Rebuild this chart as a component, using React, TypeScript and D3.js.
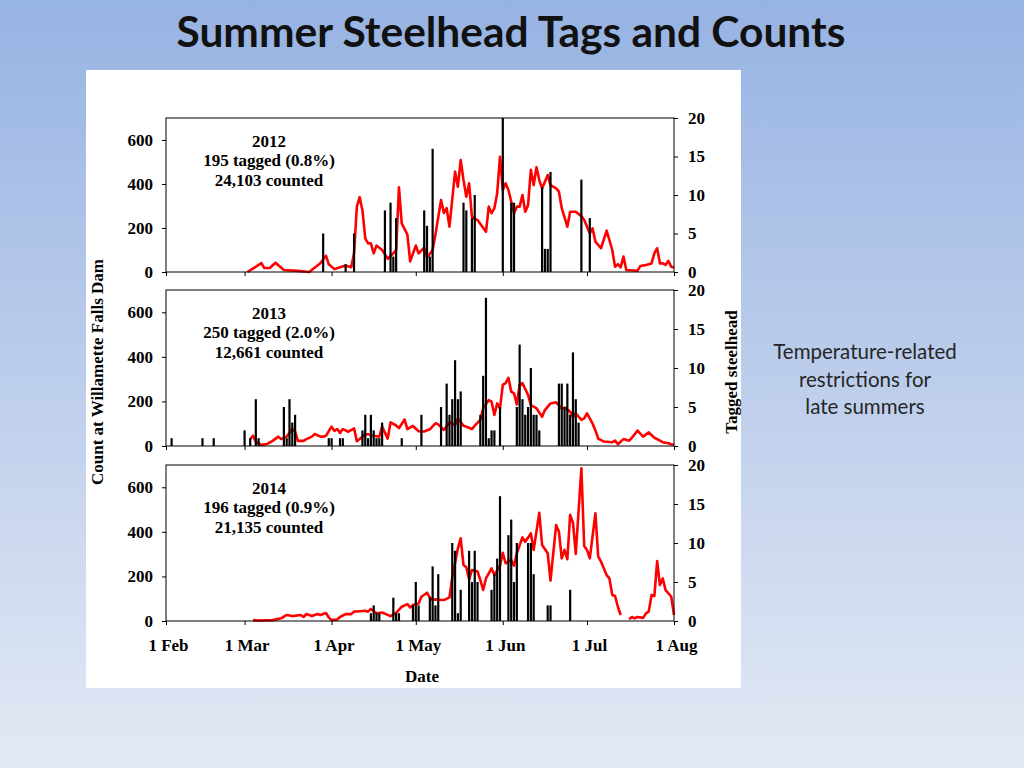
import { useEffect, useRef } from 'react';
import * as d3 from 'd3';

type Pt = [number, number | null];

// days counted from 1 Feb
const monthDays = [0, 28, 59, 89, 120, 150, 181];
const monthLabels = ['1 Feb', '1 Mar', '1 Apr', '1 May', '1 Jun', '1 Jul', '1 Aug'];
const countTicks = [0, 200, 400, 600];
const tagTicks = [0, 5, 10, 15, 20];

const years = ['2012', '2013', '2014'];
const taggedNotes = ['195 tagged (0.8%)', '250 tagged (2.0%)', '196 tagged (0.9%)'];
const countedNotes = ['24,103 counted', '12,661 counted', '21,135 counted'];

// daily dam counts (left axis)
const counts2012: Pt[] = [
  [29, 0], [34, 40], [35, 18], [37, 18], [39, 42], [42, 9], [47, 5], [51, 0], [55, 40], [57, 74],
  [58, 35], [60, 13], [62, 22], [64, 30], [66, 22], [67, 85], [68, 297], [69, 340], [70, 280], [71, 153],
  [72, 130], [73, 130], [74, 85], [75, 120], [77, 100], [79, 60], [81, 85], [82, 100], [83, 385], [84, 221],
  [86, 170], [87, 48], [89, 120], [90, 85], [92, 110], [93, 65], [95, 100], [96, 170], [98, 327], [99, 268],
  [100, 290], [101, 206], [103, 456], [104, 388], [105, 509], [106, 418], [107, 342], [108, 403], [109, 251], [111, 236],
  [114, 183], [115, 297], [116, 267], [117, 290], [118, 358], [119, 524], [120, 373], [121, 403], [122, 373], [124, 267],
  [125, 297], [126, 297], [127, 350], [128, 274], [129, 304], [130, 464], [131, 395], [132, 476], [133, 418], [134, 380],
  [136, 441], [137, 395], [139, 380], [140, 365], [141, 290], [143, 206], [144, 274], [146, 274], [148, 254], [149, 236],
  [151, 176], [152, 198], [153, 138], [155, 108], [157, 188], [159, 100], [160, 24], [161, 36], [162, 21], [163, 70],
  [164, 9], [168, 6], [169, 27], [171, 32], [173, 39], [174, 85], [175, 108], [176, 39], [177, 39], [178, 32],
  [179, 51], [180, 24], [181, 20],
];
const counts2013: Pt[] = [
  [30, 31], [31, 46], [32, 19], [34, 5], [36, 9], [38, 23], [40, 42], [41, 31], [43, 42], [45, 76],
  [46, 64], [47, 23], [49, 23], [50, 31], [52, 42], [53, 54], [55, 42], [56, 42], [57, 46], [59, 87],
  [60, 68], [61, 76], [62, 59], [63, 76], [65, 64], [67, 79], [68, 21], [69, 31], [71, 53], [72, 53],
  [74, 46], [76, 42], [77, 87], [79, 33], [80, 106], [82, 92], [83, 80], [85, 119], [86, 76], [88, 90],
  [90, 66], [92, 65], [94, 75], [96, 102], [97, 97], [99, 72], [101, 106], [103, 94], [104, 124], [106, 91],
  [108, 82], [109, 76], [110, 91], [112, 117], [113, 169], [115, 206], [116, 199], [117, 139], [118, 191], [119, 169],
  [120, 274], [121, 282], [122, 306], [123, 244], [124, 236], [125, 187], [126, 274], [127, 282], [129, 229], [130, 184],
  [132, 169], [134, 131], [135, 161], [137, 191], [139, 196], [141, 169], [142, 172], [144, 154], [145, 131], [146, 146],
  [148, 117], [149, 124], [150, 146], [152, 100], [153, 70], [154, 33], [156, 20], [159, 17], [160, 24], [161, 8],
  [163, 31], [165, 24], [166, 37], [168, 69], [170, 42], [172, 61], [174, 37], [175, 31], [177, 17], [179, 12],
  [180, 8], [181, 6],
];
const counts2014: Pt[] = [
  [31, 4], [33, 2], [38, 4], [41, 12], [43, 27], [45, 22], [48, 27], [49, 18], [50, 31], [52, 22],
  [54, 31], [55, 27], [57, 36], [58, 16], [59, 4], [61, 7], [62, 18], [64, 31], [66, 31], [67, 42],
  [69, 44], [71, 46], [72, 42], [73, 54], [75, 35], [77, 38], [80, 22], [82, 36], [84, 64], [86, 76],
  [87, 61], [88, 72], [90, 79], [91, 109], [93, 127], [94, 105], [95, 94], [96, 97], [98, 94], [99, 94],
  [101, 106], [102, 196], [104, 326], [105, 371], [106, 251], [107, 241], [108, 187], [109, 229], [111, 222], [112, 184],
  [113, 139], [114, 191], [116, 236], [117, 206], [119, 248], [120, 306], [121, 259], [123, 274], [124, 248], [125, 304],
  [127, 375], [128, 356], [130, 393], [131, 319], [133, 486], [134, 341], [136, 304], [137, 181], [139, 431], [140, 401],
  [141, 281], [142, 319], [143, 277], [144, 476], [145, 441], [146, 301], [148, 685], [149, 337], [150, 319], [151, 281],
  [153, 483], [154, 289], [155, 266], [157, 206], [158, 191], [159, 117], [160, 112], [161, 64], [162, 27], [163, null],
  [165, 8], [166, 18], [167, 12], [168, 18], [170, 14], [171, 34], [172, 42], [173, 117], [174, 112], [175, 269],
  [176, 161], [177, 191], [178, 139], [180, 110], [181, 27],
];

// daily tagged fish (right axis)
const tagged2012: [number, number][] = [
  [56, 5], [64, 1], [67, 5], [78, 8], [80, 9], [81, 2], [82, 7], [92, 8], [93, 6], [94, 2],
  [95, 16], [106, 9], [107, 8], [109, 7], [110, 10], [120, 20], [123, 9], [124, 9], [134, 11], [135, 3],
  [136, 3], [137, 13], [148, 12], [151, 7],
];
const tagged2013: [number, number][] = [
  [2, 1], [13, 1], [17, 1], [28, 2], [30, 1], [32, 6], [33, 1], [42, 5], [43, 1], [44, 6],
  [45, 3], [46, 4], [58, 1], [59, 1], [62, 1], [63, 1], [70, 2], [71, 4], [72, 1], [73, 4],
  [74, 2], [75, 1], [76, 1], [77, 3], [84, 1], [91, 4], [98, 5], [100, 8], [101, 4], [102, 6],
  [103, 11], [104, 6], [105, 7], [112, 4], [113, 9], [114, 19], [115, 1], [116, 2], [117, 2], [119, 5],
  [125, 5], [126, 13], [127, 6], [128, 4], [129, 5], [130, 10], [131, 4], [132, 4], [133, 2], [140, 8],
  [141, 8], [142, 5], [143, 8], [144, 4], [145, 12], [146, 6], [147, 3],
];
const tagged2014: [number, number][] = [
  [73, 1], [74, 2], [75, 1], [76, 1], [81, 3], [82, 1], [83, 1], [88, 2], [89, 5], [90, 2],
  [94, 3], [95, 7], [96, 2], [97, 6], [102, 10], [103, 9], [104, 1], [105, 4], [108, 9], [109, 5],
  [110, 9], [111, 5], [116, 4], [117, 6], [118, 8], [119, 16], [122, 11], [123, 13], [124, 5], [125, 10],
  [129, 10], [130, 10], [131, 6], [136, 2], [137, 2], [144, 4],
];

const countSeries = [counts2012, counts2013, counts2014];
const taggedSeries = [tagged2012, tagged2013, tagged2014];

const SERIF = '"Liberation Serif", "Times New Roman", serif';

export default function App() {
  const svgRef = useRef<SVGSVGElement>(null);

  useEffect(() => {
    const svg = d3.select(svgRef.current);
    svg.selectAll('*').remove();

    // slide background
    const defs = svg.append('defs');
    const grad = defs
      .append('linearGradient')
      .attr('id', 'bg')
      .attr('x1', 0)
      .attr('y1', 0)
      .attr('x2', 0)
      .attr('y2', 1);
    grad.append('stop').attr('offset', '0%').attr('stop-color', '#97b3e3');
    grad.append('stop').attr('offset', '100%').attr('stop-color', '#e3e9f4');
    svg.append('rect').attr('width', 1024).attr('height', 768).attr('fill', 'url(#bg)');
    svg.append('rect').attr('x', 86).attr('y', 70).attr('width', 655).attr('height', 618).attr('fill', '#fff');

    svg
      .append('text')
      .attr('x', 511)
      .attr('y', 47)
      .attr('text-anchor', 'middle')
      .attr('textLength', 669)
      .attr('lengthAdjust', 'spacingAndGlyphs')
      .style('font-family', 'Lato, "Open Sans", sans-serif')
      .style('font-weight', 'bold')
      .style('font-size', '42px')
      .style('fill', '#111')
      .text('Summer Steelhead Tags and Counts');

    // side note
    const note = ['Temperature-related', 'restrictions for', 'late summers'];
    svg
      .append('g')
      .selectAll('text')
      .data(note)
      .join('text')
      .attr('x', 865)
      .attr('y', (d, i) => 359 + i * 27.5)
      .attr('text-anchor', 'middle')
      .style('font-family', 'Lato, "Open Sans", sans-serif')
      .style('font-size', '20.5px')
      .style('fill', '#262626')
      .text((d) => d);

    const x = d3.scaleLinear().domain([0, 181]).range([166, 674]);
    const panelTops = [118, 290, 465];
    const panelH = 154;

    panelTops.forEach((top, i) => {
      const bottom = top + panelH + (i > 0 ? 2 : 0);
      const yC = d3.scaleLinear().domain([0, 700]).range([bottom, top]);
      const yT = d3.scaleLinear().domain([0, 20]).range([bottom, top]);
      const g = svg.append('g');

      // counts line
      const line = d3
        .line<Pt>()
        .defined((d) => d[1] != null)
        .x((d) => x(d[0]))
        .y((d) => yC(d[1] as number));
      g.append('path')
        .attr('d', line(countSeries[i]))
        .attr('fill', 'none')
        .attr('stroke', '#ff0000')
        .attr('stroke-width', 2.6)
        .attr('stroke-linejoin', 'round');

      // tagged bars
      g.append('g')
        .selectAll('rect')
        .data(taggedSeries[i])
        .join('rect')
        .attr('x', (d) => x(d[0]) - 1.1)
        .attr('width', 2.2)
        .attr('y', (d) => yT(Math.min(d[1], 20)))
        .attr('height', (d) => bottom - yT(Math.min(d[1], 20)))
        .attr('fill', '#000');

      // frame
      g.append('rect')
        .attr('x', 166)
        .attr('y', top)
        .attr('width', 508)
        .attr('height', bottom - top)
        .attr('fill', 'none')
        .attr('stroke', '#000')
        .attr('stroke-width', 1);

      const styleAxis = (a: any) => {
        a.select('.domain').remove();
        a.selectAll('line').attr('stroke', '#000');
        a.selectAll('text')
          .style('font-family', SERIF)
          .style('font-weight', 'bold')
          .style('font-size', '17px')
          .attr('fill', '#000');
      };

      g.append('g')
        .attr('transform', 'translate(166,0)')
        .call(d3.axisLeft(yC).tickValues(countTicks).tickSize(4).tickSizeOuter(0).tickPadding(9).tickFormat(d3.format('d')))
        .call(styleAxis);

      g.append('g')
        .attr('transform', 'translate(674,0)')
        .call(d3.axisRight(yT).tickValues(tagTicks).tickSize(4).tickSizeOuter(0).tickPadding(10).tickFormat(d3.format('d')))
        .call(styleAxis);

      const xa = g
        .append('g')
        .attr('transform', `translate(0,${bottom})`)
        .call(
          d3
            .axisBottom(x)
            .tickValues(monthDays)
            .tickSize(4)
            .tickSizeOuter(0)
            .tickPadding(14)
            .tickFormat((d, k) => (i === 2 ? monthLabels[k] : ''))
        )
        .call(styleAxis);
      xa.selectAll('text').attr('dx', '2');

      // year notes
      const notes = [years[i], taggedNotes[i], countedNotes[i]];
      g.append('g')
        .selectAll('text')
        .data(notes)
        .join('text')
        .attr('x', 269)
        .attr('y', (d, k) => top + 28.7 + k * 19.6)
        .attr('text-anchor', 'middle')
        .style('font-family', SERIF)
        .style('font-weight', 'bold')
        .style('font-size', '17px')
        .text((d) => d);
    });

    // axis titles
    const titleStyle = (t: any) =>
      t
        .attr('text-anchor', 'middle')
        .style('font-family', SERIF)
        .style('font-weight', 'bold')
        .style('font-size', '17px')
        .style('fill', '#000');

    svg.append('text').attr('transform', 'translate(103,372) rotate(-90)').call(titleStyle).text('Count at Willamette Falls Dam');
    svg.append('text').attr('transform', 'translate(737,372) rotate(-90)').call(titleStyle).text('Tagged steelhead');
    svg.append('text').attr('x', 422).attr('y', 682).call(titleStyle).text('Date');
  }, []);

  return (
    <svg
      ref={svgRef}
      width={1024}
      height={768}
      style={{ position: 'absolute', left: 0, top: 0, display: 'block' }}
    />
  );
}
